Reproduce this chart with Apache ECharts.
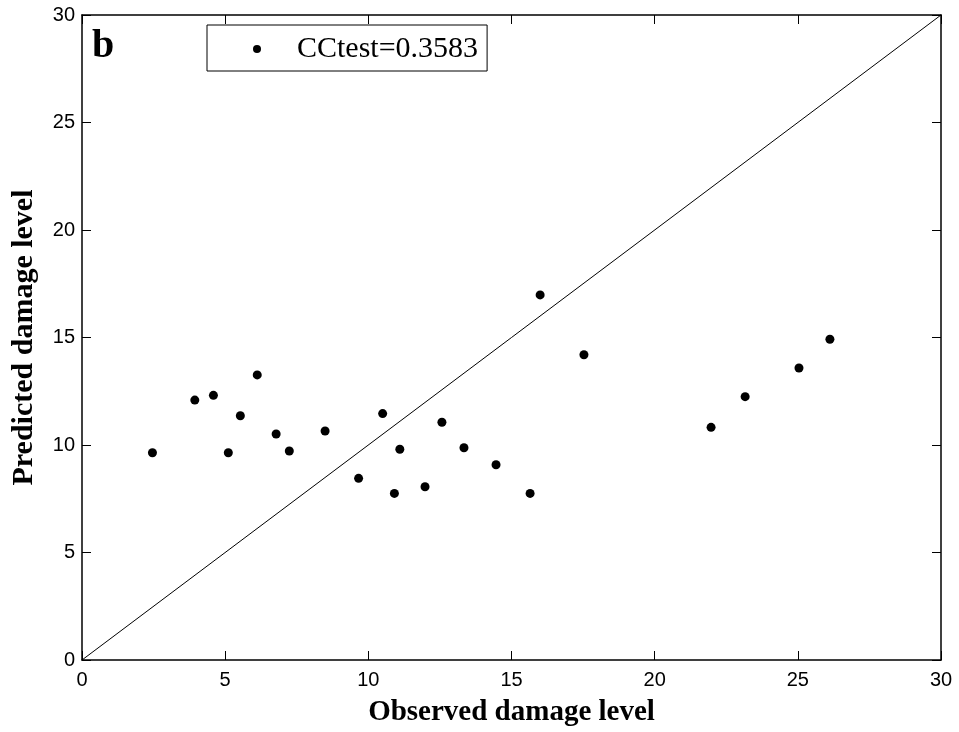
<!DOCTYPE html>
<html>
<head>
<meta charset="utf-8">
<script src="https://cdn.jsdelivr.net/npm/echarts@6/dist/echarts.min.js"></script>
<style>html,body{margin:0;padding:0;background:#fff}#c{width:959px;height:732px}</style>
</head>
<body>
<div id="c"></div>
<script>
// Observed vs predicted damage level (test set)
const observed = [2.46, 3.94, 4.59, 5.11, 5.53, 6.12, 6.78, 7.24, 8.49, 9.66, 10.50, 10.91, 11.10, 11.98, 12.57, 13.34, 14.46, 15.65, 16.00, 17.53, 21.97, 23.16, 25.04, 26.12];
const predicted = [9.64, 12.09, 12.31, 9.64, 11.36, 13.26, 10.51, 9.72, 10.65, 8.45, 11.46, 7.75, 9.80, 8.06, 11.06, 9.87, 9.08, 7.75, 16.98, 14.20, 10.82, 12.25, 13.58, 14.92];
const diagX = [0, 30];
const diagY = [0, 30];
const tickValues = [0, 5, 10, 15, 20, 25, 30];
const legendLabel = 'CCtest=0.3583';
const panelLabel = 'b';
const xTitle = 'Observed damage level';
const yTitle = 'Predicted damage level';

const chart = echarts.init(document.getElementById('c'), null, {renderer: 'canvas'});
const lineStyle = {color: '#000', width: 1.5};
const baseAxis = {
  type: 'value', min: tickValues[0], max: tickValues[tickValues.length - 1], interval: 5,
  axisLine: {show: true, onZero: false, lineStyle: lineStyle},
  axisTick: {show: true, inside: true, length: 9, lineStyle: {color: '#000', width: 1}},
  splitLine: {show: false}
};
chart.setOption({
  animation: false,
  backgroundColor: '#fff',
  grid: {left: 82, right: 18, top: 15, bottom: 71},
  legend: {
    data: [legendLabel], left: 207, top: 25,
    padding: [9, 9, 7, 46],
    itemWidth: 70, itemHeight: 8, itemGap: 0,
    backgroundColor: '#fff', borderColor: '#000', borderWidth: 1, borderRadius: 0,
    textStyle: {fontFamily: 'Liberation Serif', fontSize: 30, color: '#000', padding: [0, 0, 0, 0]},
    selectedMode: false
  },
  xAxis: [
    Object.assign({}, baseAxis, {
      position: 'bottom',
      axisLabel: {show: true, margin: 10, fontFamily: 'Liberation Sans', fontSize: 20, color: '#000'},
      name: xTitle, nameLocation: 'middle', nameGap: 38,
      nameTextStyle: {fontFamily: 'Liberation Serif', fontWeight: 'bold', fontSize: 29, color: '#000'}
    }),
    Object.assign({}, baseAxis, {position: 'top', axisLabel: {show: false}})
  ],
  yAxis: [
    Object.assign({}, baseAxis, {
      position: 'left',
      axisLabel: {show: true, margin: 7, fontFamily: 'Liberation Sans', fontSize: 20, color: '#000'},
      name: yTitle, nameLocation: 'middle', nameGap: 43,
      nameTextStyle: {fontFamily: 'Liberation Serif', fontWeight: 'bold', fontSize: 30, color: '#000'}
    }),
    Object.assign({}, baseAxis, {position: 'right', axisLabel: {show: false}})
  ],
  graphic: [{
    type: 'text', left: 92, top: 27,
    style: {text: panelLabel, font: 'bold 40px "Liberation Serif"', fill: '#000'}
  }],
  series: [
    {
      type: 'line', name: 'diag', data: diagX.map((x, i) => [x, diagY[i]]),
      showSymbol: false, symbol: 'none', lineStyle: {color: '#000', width: 1}, silent: true, z: 1
    },
    {
      type: 'scatter', name: legendLabel, data: observed.map((x, i) => [x, predicted[i]]),
      symbol: 'circle', symbolSize: 9, itemStyle: {color: '#000', opacity: 1}, z: 3
    }
  ]
});
</script>
</body>
</html>
